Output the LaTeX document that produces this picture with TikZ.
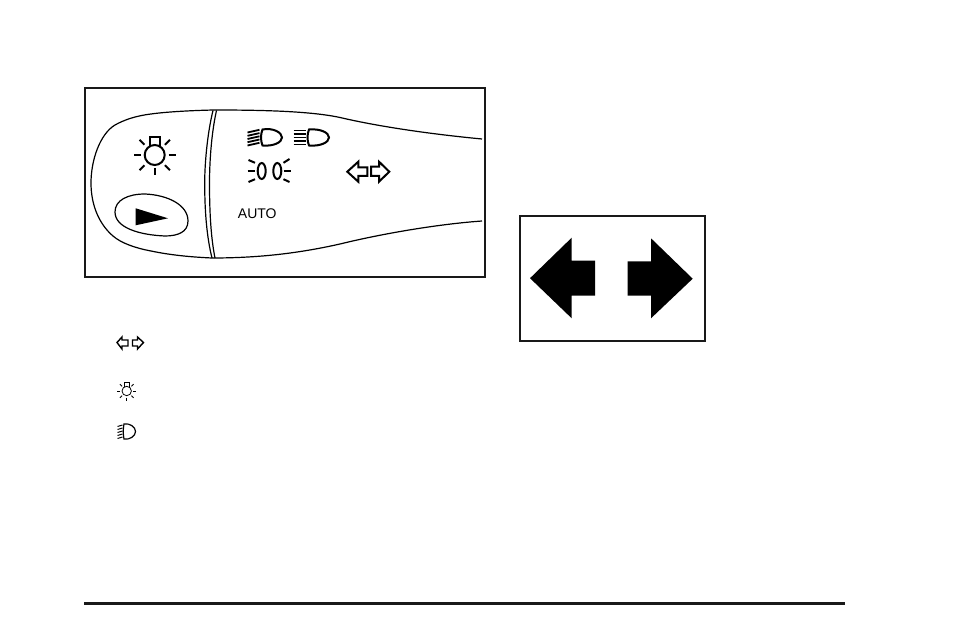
\documentclass[tikz,border=0pt]{standalone}
\usepackage{fontspec}
\setmainfont{Liberation Sans}
\tikzset{
  frame/.style={draw=black!90,line width=2pt},
  outl/.style={draw=black,line width=1.2pt},
  ico/.style={draw=black,line width=2pt},
  sunicon/.pic={
    \draw[ico] (0,0) circle[radius=10];
    \draw[ico] (-5,-9) -- (-5,-18.3) -- (5.3,-18.3) -- (5.3,-9);
    \foreach \a/\r in {0/14,180/14,90/13}{\draw[ico] (\a:\r) -- (\a:\r+7);}
    \foreach \a in {45,135,-135,-45}{\draw[ico] (\a:14.5) -- (\a:21.5);}
  },
  beamicon/.pic={
    \draw[ico] (15.5,-8) .. controls (26,-10) and (35,-5) .. (35,0) .. controls (35,5) and (26,9) .. (15.5,8) .. controls (13.5,3) and (13.5,-3) .. (15.5,-8) -- cycle;
    \foreach \y in {-6.5,-3.2,0,3.2,6.5}{\draw[draw=black,line width=1.8pt] (0.5,\y+1.5) -- (12.5,\y-1.2);}
  },
  beamflat/.pic={
    \draw[ico] (16,-8) .. controls (27,-9) and (36,-5) .. (36,0) .. controls (36,5) and (27,9) .. (16,8) .. controls (14,3) and (14,-3) .. (16,-8) -- cycle;
    \foreach \y in {-7,-3.5,0,3.5,7}{\draw[draw=black,line width=1.8pt] (0.5,\y) -- (13,\y);}
  }
}
\begin{document}
\begin{tikzpicture}[x=1pt,y=-1pt]
\useasboundingbox (0,0) rectangle (954,636);
\fill[white] (0,0) rectangle (954,636);
% switch frame
\draw[frame] (85,88) rectangle (485,277.5);
% stalk outline
\draw[outl] (482,139) .. controls (440,135) and (385,128) .. (340,117.5)
  .. controls (310,111) and (260,110) .. (214,110)
  .. controls (190,110.5) and (165,112) .. (151,114)
  .. controls (135,116) and (124,120) .. (115,125)
  .. controls (100,134) and (91,160) .. (91,183)
  .. controls (91,205) and (99,224) .. (113,236)
  .. controls (121,243) and (135,248) .. (151,251)
  .. controls (170,255) and (190,257) .. (212,258)
  .. controls (260,258) and (300,253) .. (340,244)
  .. controls (385,233) and (440,224) .. (482,221);
% collar
\draw[outl] (213,110.5) .. controls (207,135) and (204.7,165) .. (204.7,183) .. controls (204.7,213) and (207,238) .. (212,258);
\draw[outl] (216.5,110.5) .. controls (211,135) and (209.5,165) .. (209.5,183) .. controls (209.5,213) and (211,238) .. (215,258);
% button
\draw[outl] (115,212) .. controls (115,200) and (128,194) .. (145,194)
  .. controls (168,195) and (188,205) .. (188,221)
  .. controls (188,232) and (178,236) .. (165,236)
  .. controls (140,235) and (115,228) .. (115,212) -- cycle;
\fill[black] (135.7,208.3) -- (168,218.3) -- (135.7,225.3) -- cycle;
% icons on stalk
\pic at (154.7,155) {sunicon};
\pic at (247,137.5) {beamicon};
\pic at (293,137.5) {beamflat};
\draw[ico] (261.7,171) ellipse[x radius=4,y radius=8];
\draw[ico] (277.3,171) ellipse[x radius=4,y radius=8];
\draw[ico] (248.5,160) -- (255,162.8);
\draw[ico] (247.5,171) -- (255,171);
\draw[ico] (248.5,182) -- (255,179.2);
\draw[ico] (283.5,162.8) -- (289.5,159);
\draw[ico] (283.5,171) -- (290.5,171);
\draw[ico] (283.5,179.2) -- (289.5,182);
\draw[ico,line join=miter] (347.3,171.7) -- (358.3,161.7) -- (358.3,167.3) -- (367.3,167.3) -- (367.3,176) -- (358.3,176) -- (358.3,181.7) -- cycle;
\draw[ico,line join=miter] (389.3,171.7) -- (379,161.7) -- (379,166.7) -- (371,166.7) -- (371,176) -- (379,176) -- (379,181.7) -- cycle;
\node[inner sep=0pt,font=\fontsize{14}{16}\selectfont] (auto) at (257.3,214) {AUTO};
% inline legend icons
\draw[draw=black,line width=1.4pt] (117,342.5) -- (122,337) -- (122,340) -- (128,340) -- (128,346) -- (122,346) -- (122,349) -- cycle;
\draw[draw=black,line width=1.4pt] (143.5,342.5) -- (137.5,337) -- (137.5,340) -- (132.5,340) -- (132.5,346) -- (137.5,346) -- (137.5,349) -- cycle;
\begin{scope}[shift={(126.7,391)}]
\draw[draw=black,line width=.8pt] (0,0) circle[radius=4.7];
\draw[draw=black,line width=.8pt] (-2.4,-4) -- (-2.4,-8.4) -- (2.4,-8.4) -- (2.4,-4);
\foreach \a in {0,180,90,45,135,-135,-45}{\draw[draw=black,line width=.8pt] (\a:6.6) -- (\a:9.6);}
\end{scope}
\draw[draw=black,line width=1.2pt] (124,424) .. controls (130,423) and (135.5,427) .. (135.5,431.5) .. controls (135.5,436) and (130,440) .. (124,439) .. controls (123,434) and (123,429) .. (124,424) -- cycle;
\foreach \y in {425,428,431,434,437}{\draw[draw=black,line width=1pt] (117.5,\y+1.5) -- (122.5,\y);}
% direction arrows panel
\draw[frame] (519.7,216) rectangle (705,340.7);
\fill[black] (530,278.2) -- (571.7,237.7) -- (571.7,260.7) -- (595,260.7) -- (595,295.7) -- (571.7,295.7) -- (571.7,318.3) -- cycle;
\fill[black] (692.7,278.7) -- (651,238.3) -- (651,261.5) -- (627.7,261.5) -- (627.7,295.7) -- (651,295.7) -- (651,318.3) -- cycle;
% rule
\draw[draw=black!90,line width=3pt] (84,603) -- (845,603);
\end{tikzpicture}
\end{document}
